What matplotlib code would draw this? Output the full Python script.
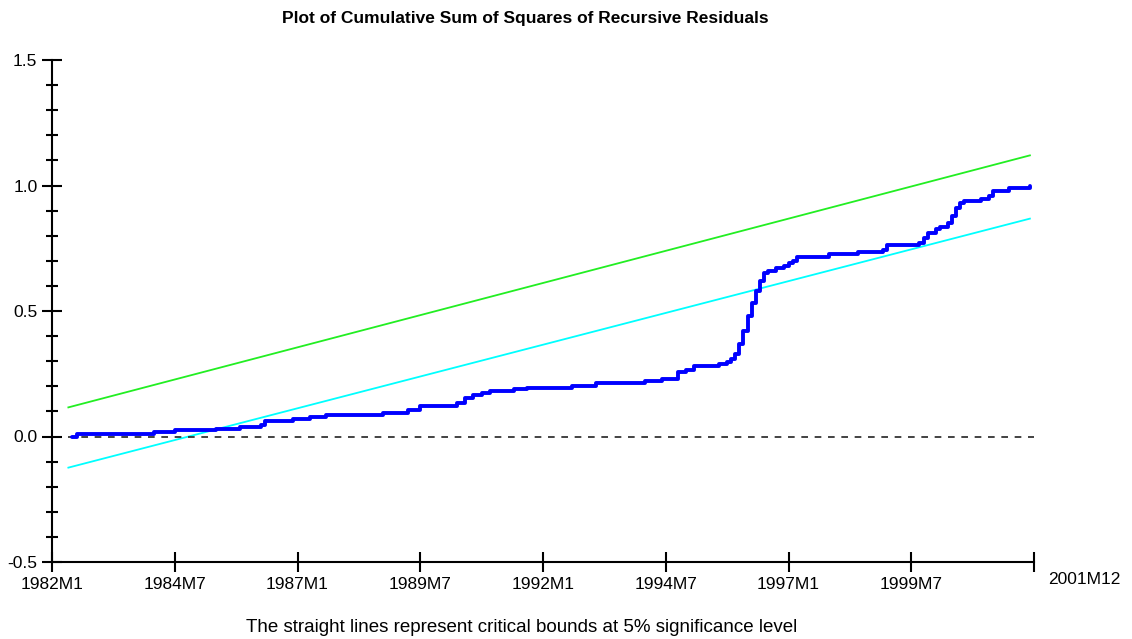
import matplotlib
matplotlib.use("Agg")
import matplotlib.pyplot as plt
from matplotlib.ticker import MultipleLocator

plt.rcParams["font.family"] = ["Liberation Sans", "DejaVu Sans"]

# month index: 0 = 1982M1
tick_pos = [0, 30, 60, 90, 120, 150, 180, 210]
tick_labels = ["1982M1", "1984M7", "1987M1", "1989M7", "1992M1", "1994M7", "1997M1", "1999M7"]
end_label = "2001M12"

# cusum of squares
months = [5, 6, 25, 30, 40, 46, 51, 52, 59, 63, 67, 81, 87, 90, 99, 101, 103, 105,
          107, 113, 116, 127, 133, 145, 149, 153, 155, 157, 163, 165, 166, 167, 168,
          169, 170, 171, 172, 173, 174, 175, 177, 179, 180, 181, 182, 190, 197, 203,
          204, 212, 213, 214, 216, 217, 219, 220, 221, 222, 223, 227, 229, 230, 234, 239]
cusumsq = [0.0, 0.008, 0.016, 0.024, 0.028, 0.036, 0.044, 0.060, 0.068, 0.076, 0.084,
           0.092, 0.104, 0.120, 0.135, 0.155, 0.165, 0.175, 0.183, 0.190, 0.195, 0.203,
           0.215, 0.223, 0.231, 0.255, 0.265, 0.279, 0.287, 0.295, 0.310, 0.330, 0.370,
           0.420, 0.480, 0.530, 0.580, 0.620, 0.650, 0.660, 0.670, 0.680, 0.690, 0.700,
           0.717, 0.729, 0.737, 0.745, 0.761, 0.769, 0.790, 0.810, 0.825, 0.835, 0.850,
           0.880, 0.910, 0.930, 0.940, 0.948, 0.960, 0.980, 0.992, 1.000]

# 5% critical bounds (straight lines)
bound_months = [4, 239]
upper = [0.116, 1.12]
lower = [-0.124, 0.868]
zero_months = [4, 240]

fig = plt.figure(figsize=(11.32, 6.39), dpi=100)
ax = fig.add_axes([52 / 1132, 77 / 639, 982 / 1132, 502 / 639])

ax.plot(bound_months, upper, color="#22ee22", lw=1.3)
ax.plot(bound_months, lower, color="#00ffff", lw=1.3)
ax.plot(zero_months, [0, 0], color="#222222", lw=1.2, dashes=(4, 4))
ax.plot(months, cusumsq, color="#0000ff", lw=2.8, drawstyle="steps-post",
        solid_joinstyle="round", solid_capstyle="round")

ax.set_xlim(0, 240)
ax.set_ylim(-0.5, 1.5)
ax.set_xticks(tick_pos + [240])
ax.set_xticklabels(tick_labels + [""])
ax.yaxis.set_major_locator(MultipleLocator(0.5))
ax.yaxis.set_minor_locator(MultipleLocator(0.1))
ax.yaxis.set_major_formatter(plt.FormatStrFormatter("%.1f"))

for side in ["top", "right"]:
    ax.spines[side].set_visible(False)
for side in ["left", "bottom"]:
    ax.spines[side].set_linewidth(1.5)

ax.tick_params(axis="both", which="major", direction="inout", length=15, width=1.5,
               labelsize=12.5, pad=3, colors="black")
ax.tick_params(axis="y", which="minor", direction="inout", length=9, width=1.5)
ax.tick_params(axis="x", which="minor", length=0)

ax.annotate(end_label, xy=(240, -0.5), xytext=(14, -18), textcoords="offset pixels",
            ha="left", va="center", fontsize=12.5, annotation_clip=False)

fig.text(525 / 1132, 1 - 18 / 639, "Plot of Cumulative Sum of Squares of Recursive Residuals",
         ha="center", va="center", fontsize=12.5, fontweight="bold")
fig.text(522 / 1132, 1 - 627 / 639,
         "The straight lines represent critical bounds at 5% significance level",
         ha="center", va="center", fontsize=13.5)

fig.savefig("out.png", dpi=100)
